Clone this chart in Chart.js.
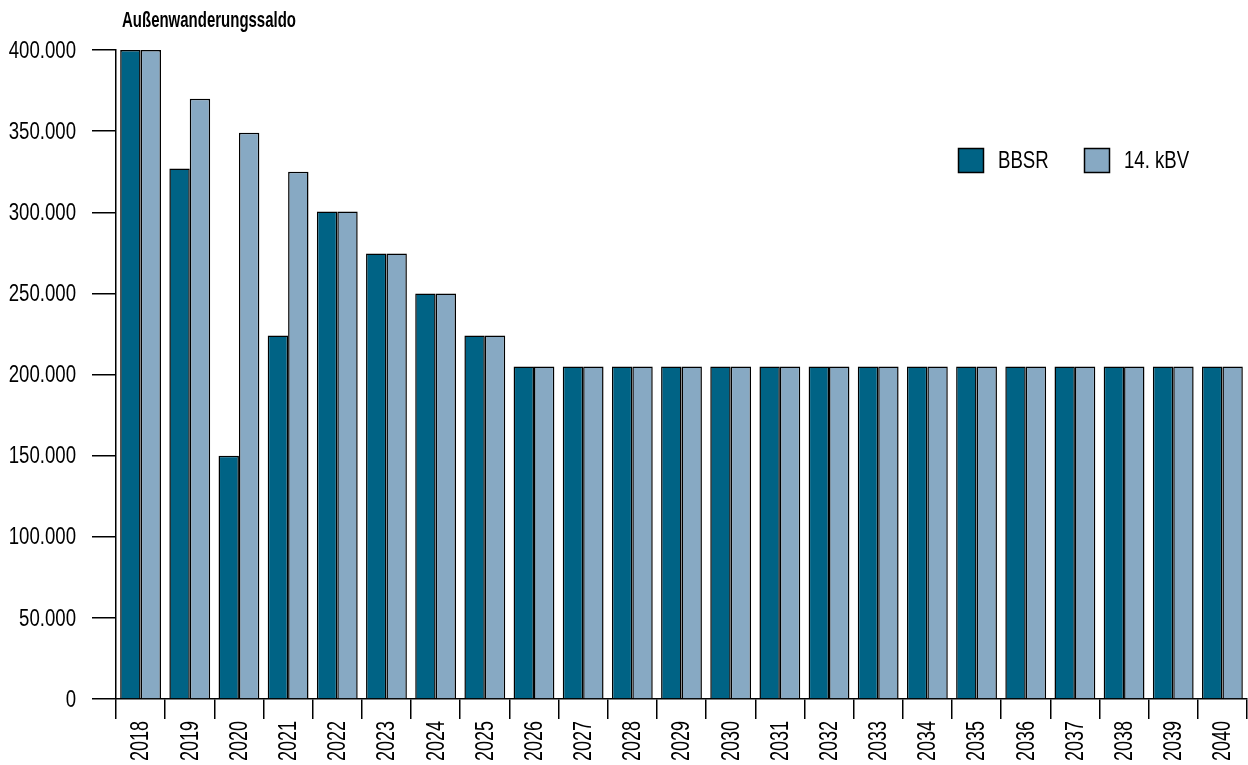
<!DOCTYPE html>
<html>
<head>
<meta charset="utf-8">
<script src="https://cdn.jsdelivr.net/npm/chart.js@4.4.1/dist/chart.umd.min.js"></script>
<style>
  html, body { margin: 0; padding: 0; background: #fff; }
  #wrap { width: 1248px; height: 765px; position: relative; }
</style>
</head>
<body>
<div id="wrap"><canvas id="chart"></canvas></div>
<script>
const years = ['2018', '2019', '2020', '2021', '2022', '2023', '2024', '2025', '2026', '2027', '2028', '2029',
  '2030', '2031', '2032', '2033', '2034', '2035', '2036', '2037', '2038', '2039', '2040'];
const bbsr = [400000, 327000, 150000, 224000, 300500, 274500, 250000, 224000, 205000, 205000, 205000, 205000,
  205000, 205000, 205000, 205000, 205000, 205000, 205000, 205000, 205000, 205000, 205000];
const kbv = [400000, 370000, 349000, 325000, 300500, 274500, 250000, 224000, 205000, 205000, 205000, 205000,
  205000, 205000, 205000, 205000, 205000, 205000, 205000, 205000, 205000, 205000, 205000];
const seriesNames = ['BBSR', '14. kBV'];
const chartTitle = 'Außenwanderungssaldo';

const FONT = '"Liberation Sans", Arial, sans-serif';

const fmt = v => v.toString().replace(/\B(?=(\d{3})+(?!\d))/g, '.');

// schmale Schrift nachbilden: Text horizontal stauchen
function narrowText(c, text, x, y, sx, align, rot) {
  c.save();
  c.translate(x, y);
  if (rot) c.rotate(rot);
  c.scale(sx, 1);
  c.textAlign = align;
  c.fillText(text, 0, 0);
  c.restore();
}

// Achsenbeschriftung, Titel und Legende selbst zeichnen
const extras = {
  id: 'extras',
  afterDraw(chart) {
    const c = chart.ctx;
    c.save();
    c.fillStyle = '#000';
    c.textBaseline = 'middle';

    // y-Achse
    const ys = chart.scales.y;
    c.font = '24px ' + FONT;
    ys.ticks.forEach(t => {
      narrowText(c, fmt(t.value), 76, ys.getPixelForValue(t.value) + 1, 0.775, 'right', 0);
    });

    // x-Achse (um 90° gedreht)
    const xs = chart.scales.x;
    c.font = '25px ' + FONT;
    chart.data.labels.forEach((lab, i) => {
      narrowText(c, lab, xs.getPixelForValue(i) + 1, 721, 0.72, 'right', -Math.PI / 2);
    });

    // Titel
    c.font = 'bold 22px ' + FONT;
    const tw = c.measureText(chartTitle).width;
    narrowText(c, chartTitle, 122, 21, 174 / tw, 'left', 0);

    // Legende
    let x = 958;
    const y = 148;
    chart.data.datasets.forEach(ds => {
      c.fillStyle = ds.backgroundColor;
      c.fillRect(x, y, 26, 25);
      c.strokeStyle = '#000';
      c.lineWidth = 1.5;
      c.strokeRect(x + 0.5, y + 0.5, 25, 24);
      c.fillStyle = '#000';
      c.font = '24px ' + FONT;
      narrowText(c, ds.label, x + 40, y + 13, 0.775, 'left', 0);
      x += 126;
    });
    c.restore();
  }
};

const ctx = document.getElementById('chart').getContext('2d');
new Chart(ctx, {
  type: 'bar',
  data: {
    labels: years,
    datasets: [
      { label: seriesNames[0], data: bbsr, backgroundColor: '#006385', borderColor: '#000', borderWidth: 1.5 },
      { label: seriesNames[1], data: kbv, backgroundColor: '#87a9c3', borderColor: '#000', borderWidth: 1.5 }
    ]
  },
  options: {
    responsive: true,
    maintainAspectRatio: false,
    animation: false,
    categoryPercentage: 0.83,
    barPercentage: 1.0,
    layout: { padding: { top: 50, right: 1, left: 0, bottom: 0 } },
    plugins: {
      legend: { display: false },
      title: { display: false },
      tooltip: { enabled: false }
    },
    scales: {
      x: {
        grid: { offset: true, drawOnChartArea: false, drawTicks: true, tickLength: 20, color: '#000', lineWidth: 1.5 },
        border: { color: '#000', width: 1.5 },
        ticks: { display: false, autoSkip: false },
        afterFit(scale) { scale.height = 66; }
      },
      y: {
        min: 0,
        max: 400000,
        grid: { drawOnChartArea: false, drawTicks: true, tickLength: 24, color: '#000', lineWidth: 1.5 },
        border: { color: '#000', width: 1.5 },
        ticks: { display: false, stepSize: 50000 },
        afterFit(scale) { scale.width = 116; }
      }
    }
  },
  plugins: [extras]
});
</script>
</body>
</html>
